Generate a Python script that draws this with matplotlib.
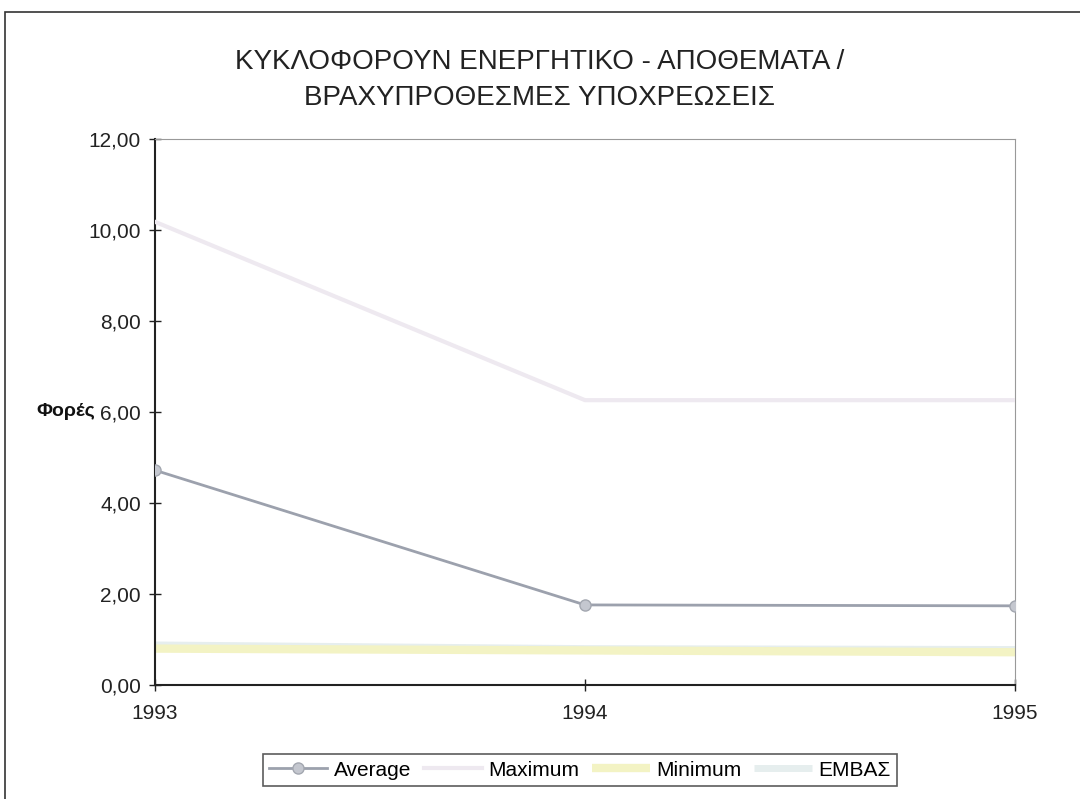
import matplotlib.pyplot as plt
from matplotlib.patches import Rectangle
from matplotlib.ticker import FuncFormatter

years = [1993, 1994, 1995]
average = [4.72, 1.76, 1.74]
maximum = [10.18, 6.26, 6.26]
minimum = [0.80, 0.76, 0.72]
embas = [0.88, 0.80, 0.78]

plt.rcParams['font.family'] = ['Liberation Sans', 'DejaVu Sans']

fig = plt.figure(figsize=(10.8, 7.99), dpi=100)
fig.patch.set_facecolor('white')

# chart border (scanned Excel chart frame)
fig.add_artist(Rectangle((5 / 1080, -0.01), 1.2, 1 - 12 / 799 + 0.01,
                         transform=fig.transFigure, fill=False,
                         edgecolor='#333333', linewidth=1.2))

ax = fig.add_axes([155 / 1080, 1 - 685 / 799, (1015 - 155) / 1080, (685 - 139) / 799])

ax.plot(years, minimum, color='#f3f3c4', lw=6, label='Minimum', zorder=2, solid_capstyle='butt')
ax.plot(years, embas, color='#e6eeee', lw=5, label='EMBAΣ', zorder=1, solid_capstyle='butt')
ax.plot(years, maximum, color='#eee9f0', lw=3, label='Maximum', zorder=3)
ax.plot(years, average, color='#9ca1ad', lw=2, marker='o', markersize=8,
        markerfacecolor='#c4c7cf', markeredgecolor='#a3a7b0', label='Average', zorder=4)

ax.set_xlim(1993, 1995)
ax.set_ylim(0, 12)
ax.set_xticks(years)
ax.set_yticks([0, 2, 4, 6, 8, 10, 12])
ax.yaxis.set_major_formatter(FuncFormatter(lambda v, p: f'{v:.2f}'.replace('.', ',')))
ax.tick_params(axis='both', direction='inout', length=8, width=1, labelsize=15, colors='#222222')
ax.tick_params(axis='x', pad=10)
ax.tick_params(axis='y', pad=6)

ax.spines['left'].set_color('#222222')
ax.spines['bottom'].set_color('#222222')
ax.spines['top'].set_color('#999999')
ax.spines['right'].set_color('#999999')
ax.spines['left'].set_linewidth(1.5)
ax.spines['bottom'].set_linewidth(1.5)

# axis title sits left of the 6,00 tick label, as in the original
ax.annotate('Φορές', xy=(0, 6), xycoords=('figure fraction', 'data'),
            xytext=(36, 0), textcoords='offset pixels',
            ha='left', va='center', fontsize=14, fontweight='bold', color='#111111')

fig.text(0.5, 1 - 62 / 799, 'ΚΥΚΛΟΦΟΡΟΥΝ ΕΝΕΡΓΗΤΙΚΟ - ΑΠΟΘΕΜΑΤΑ /',
         ha='center', va='center', fontsize=20, color='#222222')
fig.text(0.5, 1 - 98 / 799, 'ΒΡΑΧΥΠΡΟΘΕΣΜΕΣ ΥΠΟΧΡΕΩΣΕΙΣ',
         ha='center', va='center', fontsize=20, color='#222222')

handles, labels = ax.get_legend_handles_labels()
order = [3, 2, 0, 1]
leg = fig.legend([handles[i] for i in order], [labels[i] for i in order],
                 loc='center', bbox_to_anchor=(580 / 1080, 1 - 770 / 799), ncol=4,
                 frameon=True, fancybox=False, edgecolor='#333333', fontsize=15,
                 handlelength=2.8, handletextpad=0.3, columnspacing=0.6, borderpad=0.3)
leg.get_frame().set_linewidth(1.2)

fig.savefig('out.png', dpi=100)
